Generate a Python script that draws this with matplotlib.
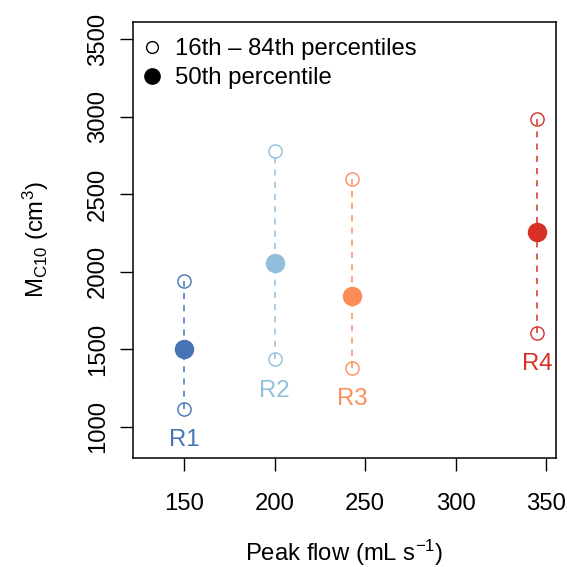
import matplotlib
matplotlib.use("Agg")
import matplotlib.pyplot as plt
from matplotlib.lines import Line2D

plt.rcParams['font.family'] = ['Liberation Sans', 'DejaVu Sans']
plt.rcParams['mathtext.default'] = 'regular'

regions = ['R1', 'R2', 'R3', 'R4']
peak_flow = [150, 200, 243, 345]
p50 = [1500, 2060, 1845, 2255]
p16 = [1115, 1435, 1380, 1605]
p84 = [1940, 2780, 2600, 2985]
colors = ['#4575b4', '#91bfdb', '#fc8d59', '#d73027']

fs = 17.2
fig = plt.figure(figsize=(5.67, 5.67), dpi=100)
ax = fig.add_axes([0.2346, 0.1922, 0.7460, 0.7690])

for i in range(len(regions)):
    c = colors[i]
    ax.plot([peak_flow[i], peak_flow[i]], [p16[i], p84[i]], color=c, lw=1.1,
            dashes=(4, 4), zorder=2)
    ax.plot([peak_flow[i]] * 2, [p16[i], p84[i]], ls='none', marker='o', ms=9.5,
            mfc='none', mec=c, mew=1.0, zorder=3)
    ax.plot(peak_flow[i], p50[i], ls='none', marker='o', ms=13, color=c, zorder=4)
    ax.annotate(regions[i], (peak_flow[i], p16[i]), xytext=(0, -22.5),
                textcoords='offset points', ha='center', va='center',
                color=c, fontsize=fs)

ax.set_xlim(121.8, 355.5)
ax.set_ylim(800, 3610)
ax.set_xticks([150, 200, 250, 300, 350])
ax.set_yticks([1000, 1500, 2000, 2500, 3000, 3500])
ax.tick_params(axis='both', length=9.5, width=1.0, labelsize=fs)
ax.tick_params(axis='x', pad=16)
ax.tick_params(axis='y', pad=8)
for lab in ax.get_yticklabels():
    lab.set_rotation(90)
    lab.set_va('center')
for s in ax.spines.values():
    s.set_linewidth(1.1)

ax.set_xlabel('Peak flow (mL s$^{-1}$)', fontsize=fs, labelpad=16)
ax.set_ylabel('M$_{C10}$ (cm$^3$)', fontsize=fs, labelpad=26)

handles = [
    Line2D([], [], ls='none', marker='o', ms=8.5, mfc='none', mec='black', mew=1.0),
    Line2D([], [], ls='none', marker='o', ms=11, color='black'),
]
ax.legend(handles, ['16th \u2013 84th percentiles', '50th percentile'],
          loc='upper left', bbox_to_anchor=(0, 0.985), frameon=False, fontsize=fs,
          handletextpad=0.55, handlelength=0.8, borderaxespad=0, borderpad=0.4,
          labelspacing=0.3)

fig.savefig('out.png', dpi=100)
